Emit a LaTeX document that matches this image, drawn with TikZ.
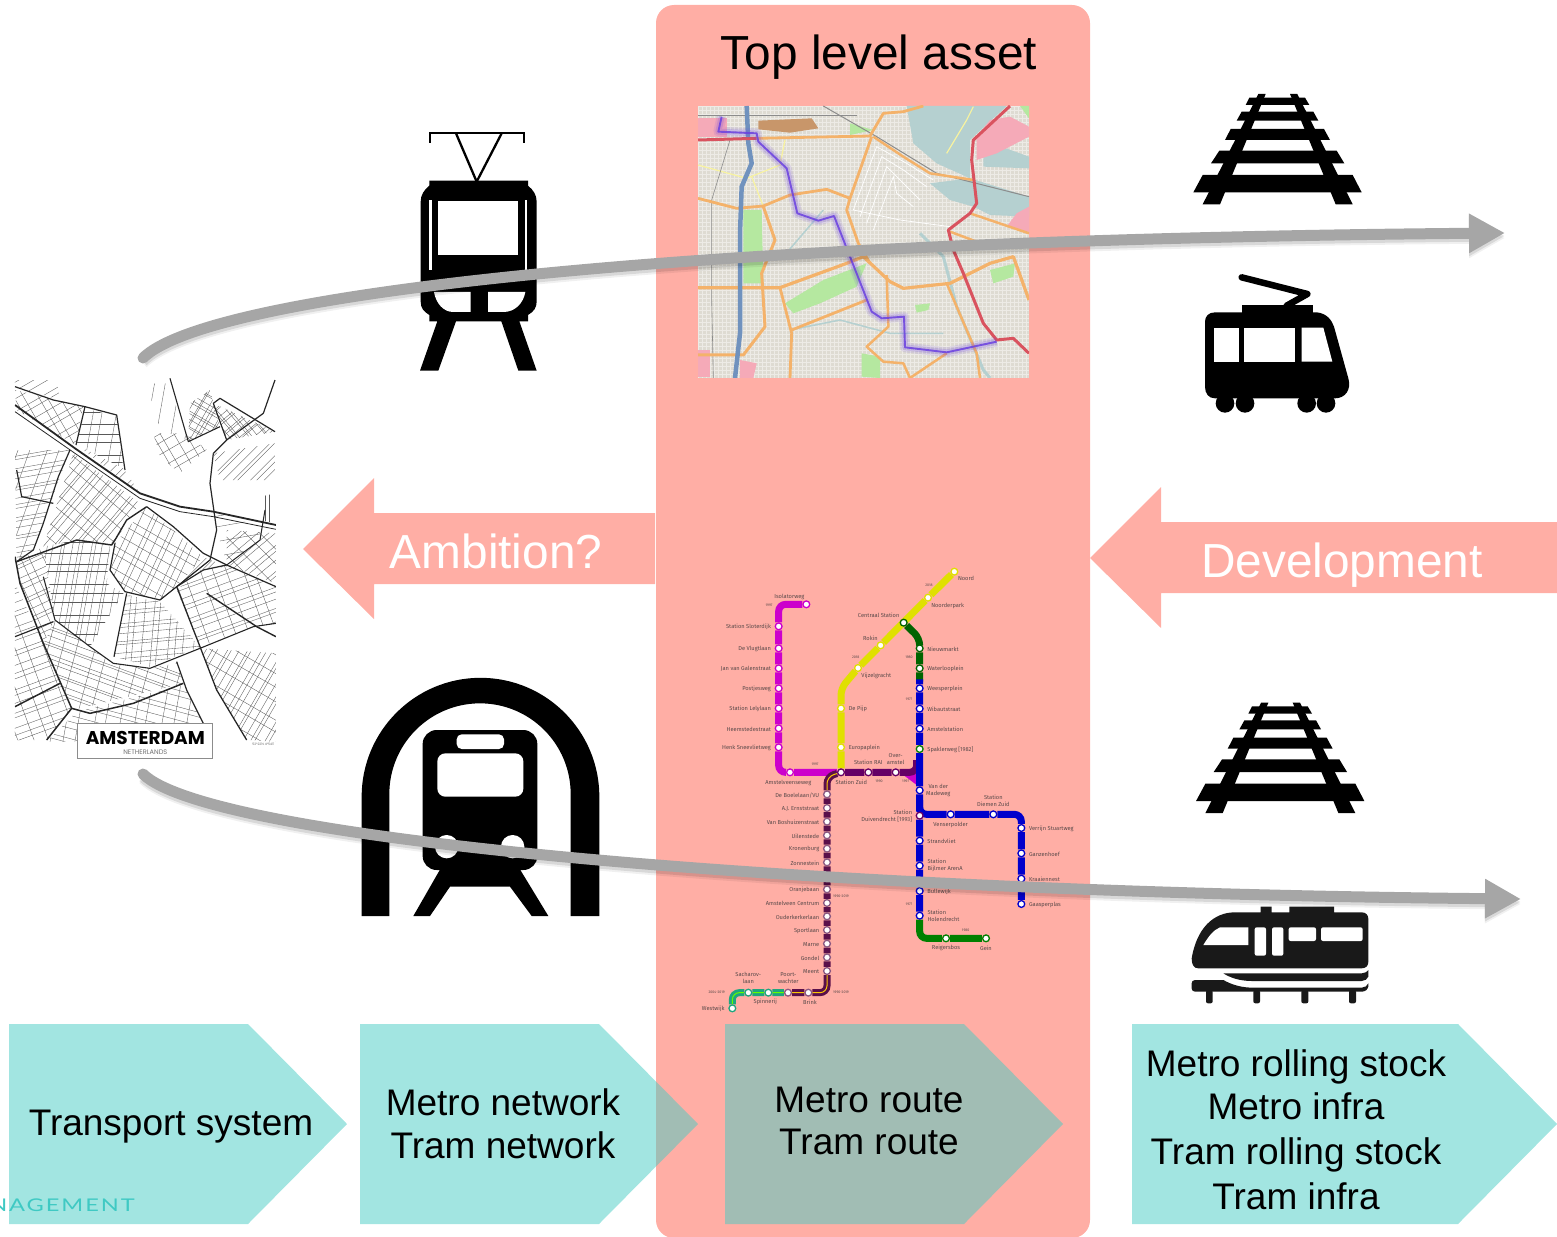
\documentclass[tikz,border=0pt]{standalone}
\usepackage{fontspec}
\setmainfont{Liberation Sans}
\newfontfamily\metrofont{Fira Sans}
\newfontfamily\posterfont{Poppins}
\newfontfamily\logofont[FakeStretch=1.35,LetterSpace=11]{Lato}
\usetikzlibrary{arrows.meta}

\definecolor{panelPink}{HTML}{FFAEA5}
\definecolor{chevronTeal}{HTML}{45CCC4}
\definecolor{arrowGrey}{HTML}{A6A6A6}
\definecolor{logoTeal}{HTML}{3FC9C3}
\definecolor{metroMagenta}{HTML}{CC00CC}
\definecolor{metroYellow}{HTML}{E0E000}
\definecolor{metroDarkGreen}{HTML}{006400}
\definecolor{metroBlue}{HTML}{0000CC}
\definecolor{metroGreen}{HTML}{008000}
\definecolor{metroPurple}{HTML}{660066}
\definecolor{metroMaroon}{HTML}{5A0F4A}
\definecolor{metroTeal}{HTML}{1FA67E}
\definecolor{metroText}{HTML}{5A4A4A}
\definecolor{mapGround}{HTML}{DEDBD2}
\definecolor{mapRoad}{HTML}{F4B26A}
\definecolor{mapWater}{HTML}{B5D0D0}
\definecolor{mapMotorway}{HTML}{7092BE}
\definecolor{mapRed}{HTML}{D9535F}
\definecolor{mapGreen}{HTML}{B5E8A0}
\definecolor{mapPink}{HTML}{F5AAB8}
\definecolor{mapYellow}{HTML}{F8F3A0}
\definecolor{mapBrown}{HTML}{C8966A}
\definecolor{mapRoute}{HTML}{6A40E0}

\pgfdeclarelayer{stops}
\pgfdeclarelayer{front}
\pgfsetlayers{main,stops,front}

\begin{document}
\begin{tikzpicture}[x = 1pt, y = -1pt,
    chevron/.style = {fill = chevronTeal, fill opacity = 0.5},
    bigLabel/.style = {anchor = base, font = \fontsize{47.8}{48}\selectfont},
    pinkLabel/.style = {bigLabel, text = white},
    boxLabel/.style = {anchor = base, font = \fontsize{37}{37}\selectfont},
    flowArrow/.style = {draw = arrowGrey, line width = 11pt, line cap = round,
        -{Triangle[length = 36pt, width = 37pt]},
        preaction = {draw = black, opacity = 0.10, line width = 11pt, transform canvas = {yshift = -3pt}},
        preaction = {draw = black, opacity = 0.06, line width = 11pt, transform canvas = {yshift = -5pt}}},
    metrostop/.style = {circle, fill = white, draw = #1, line width = 1.3pt, minimum size = 6.8pt, inner sep = 0pt},
    metroLine/.style = {draw = #1, line width = 7pt, rounded corners = 7pt},
    tramCore/.style = {draw = yellow!60!orange, line width = 1pt, rounded corners = 7pt},
    stopLabel/.style = {font = \metrofont\fontsize{5.7}{7}\selectfont, text = metroText, inner sep = 0pt, align = center},
    leftLabel/.style = {label = {[stopLabel, yshift = -0.8pt, label distance = 3.5pt]left:#1}},
    rightLabel/.style = {label = {[stopLabel, yshift = -0.8pt, label distance = 3.5pt]right:#1}},
    yearLabel/.style = {font = \metrofont\fontsize{3.6}{4}\selectfont, text = metroText, inner sep = 0pt},
    posterRoad/.style = {draw = black!85, line width = #1, line join = round},
    posterStreet/.style = {draw = black!65, line width = 0.35pt},
    mapRoadLine/.style = {draw = mapRoad, line width = #1, line join = round},
]

    \useasboundingbox (0, 0) rectangle (1557, 1236);

    % panel and big arrows
    \fill[panelPink, rounded corners = 18pt] (656, 5) rectangle (1090, 1238);
    \node[bigLabel] (topLevel) at (879, 70) {Top level asset};

    \fill[panelPink] (655, 513) -- (374, 513) -- (374, 478) -- (303, 549) -- (374, 619) -- (374, 584) -- (655, 584) -- cycle;
    \node[pinkLabel] (ambition) at (496, 568) {Ambition?};

    \fill[panelPink] (1557, 522) -- (1161, 522) -- (1161, 487) -- (1090, 558) -- (1161, 628) -- (1161, 593) -- (1557, 593) -- cycle;
    \node[pinkLabel] (development) at (1342, 577) {Development};

    % draw chevrons
    \fill[chevron] (9, 1024) -- (248, 1024) -- (347, 1124) -- (248, 1224) -- (9, 1224) -- cycle;
    \fill[chevron] (360, 1024) -- (599, 1024) -- (698, 1124) -- (599, 1224) -- (360, 1224) -- cycle;
    \fill[chevron] (725, 1024) -- (964, 1024) -- (1063, 1124) -- (964, 1224) -- (725, 1224) -- cycle;
    \fill[chevron] (1132, 1024) -- (1458, 1024) -- (1557, 1124) -- (1458, 1224) -- (1132, 1224) -- cycle;

    \node[boxLabel] (transport) at (171, 1135) {Transport system};
    \node[boxLabel] (metroNetwork) at (503, 1115) {Metro network};
    \node[boxLabel] (tramNetwork) at (503, 1158) {Tram network};
    \node[boxLabel] (metroRoute) at (869, 1112) {Metro route};
    \node[boxLabel] (tramRoute) at (869, 1154) {Tram route};
    \node[boxLabel] (metroStock) at (1296, 1076) {Metro rolling stock};
    \node[boxLabel] (metroInfra) at (1296, 1119) {Metro infra};
    \node[boxLabel] (tramStock) at (1296, 1164) {Tram rolling stock};
    \node[boxLabel] (tramInfra) at (1296, 1209) {Tram infra};

    \node[anchor = base east, inner sep = 0pt, text = logoTeal, font = \logofont\fontsize{17.5}{18}\selectfont] (logo) at (135, 1211) {NAGEMENT};

    % draw poster map
    \def\streetHatch#1#2#3{
        \begin{scope}
            \clip #1;
            \foreach \off in {-60, ..., 60} {
                \draw[posterStreet, rotate around = {#2:(450, 550)}] (-500, {550 + \off * #3 + 5 * sin(\off * 137)}) -- (1500, {550 + \off * #3 + 5 * sin(\off * 137)});
            }
        \end{scope}
    }

    \begin{scope}[shift = {(0, 370)}, scale = 1/3]
        \begin{scope}
            \clip (45, 20) rectangle (828, 1115);

            % streets
            \streetHatch{(220, 250) -- (420, 400) -- (340, 520) -- (230, 510) -- (130, 530) -- cycle}{50}{16}
            \streetHatch{(220, 250) -- (420, 400) -- (340, 520) -- (230, 510) -- (130, 530) -- cycle}{140}{40}
            \streetHatch{(130, 530) -- (230, 510) -- (330, 525) -- (320, 640) -- (370, 670) -- (270, 830) -- (165, 750) -- cycle}{80}{18}
            \streetHatch{(130, 530) -- (230, 510) -- (330, 525) -- (320, 640) -- (370, 670) -- (270, 830) -- (165, 750) -- cycle}{0}{30}
            \streetHatch{(345, 520) -- (440, 410) -- (610, 560) -- (530, 650) -- (480, 690) -- (375, 665) -- (330, 600) -- cycle}{65}{22}
            \streetHatch{(345, 520) -- (440, 410) -- (610, 560) -- (530, 650) -- (480, 690) -- (375, 665) -- (330, 600) -- cycle}{150}{30}
            \streetHatch{(380, 675) -- (480, 695) -- (600, 830) -- (450, 890) -- (342, 860) -- cycle}{85}{25}
            \streetHatch{(380, 675) -- (480, 695) -- (600, 830) -- (450, 890) -- (342, 860) -- cycle}{5}{18}
            \streetHatch{(600, 600) -- (680, 585) -- (828, 650) -- (828, 760) -- (760, 770) -- (600, 830) -- (530, 660) -- cycle}{20}{20}
            \streetHatch{(600, 600) -- (680, 585) -- (828, 650) -- (828, 760) -- (760, 770) -- (600, 830) -- (530, 660) -- cycle}{110}{40}
            \streetHatch{(45, 60) -- (250, 110) -- (228, 225) -- (50, 120) -- cycle}{30}{25}
            \streetHatch{(45, 60) -- (250, 110) -- (228, 225) -- (50, 120) -- cycle}{120}{30}
            \streetHatch{(255, 115) -- (350, 140) -- (370, 295) -- (230, 225) -- cycle}{0}{30}
            \streetHatch{(255, 115) -- (350, 140) -- (370, 295) -- (230, 225) -- cycle}{80}{35}
            \streetHatch{(45, 240) -- (210, 240) -- (100, 540) -- (50, 575) -- cycle}{10}{18}
            \streetHatch{(45, 240) -- (210, 240) -- (100, 540) -- (50, 575) -- cycle}{70}{40}
            \streetHatch{(45, 640) -- (130, 820) -- (215, 1015) -- (140, 1110) -- (45, 1110) -- cycle}{20}{22}
            \streetHatch{(45, 640) -- (130, 820) -- (215, 1015) -- (140, 1110) -- (45, 1110) -- cycle}{110}{40}
            \streetHatch{(220, 1020) -- (550, 940) -- (530, 880) -- (450, 895) -- (340, 880) -- (270, 830) -- (165, 750) -- (130, 820) -- cycle}{160}{16}
            \streetHatch{(220, 1020) -- (550, 940) -- (530, 880) -- (450, 895) -- (340, 880) -- (270, 830) -- (165, 750) -- (130, 820) -- cycle}{75}{45}
            \streetHatch{(230, 1025) -- (550, 945) -- (610, 1060) -- (610, 1115) -- (140, 1115) -- cycle}{165}{22}
            \streetHatch{(230, 1025) -- (550, 945) -- (610, 1060) -- (610, 1115) -- (140, 1115) -- cycle}{80}{40}
            \streetHatch{(600, 835) -- (830, 850) -- (828, 1115) -- (740, 1110) -- (650, 960) -- cycle}{60}{18}
            \streetHatch{(600, 835) -- (830, 850) -- (828, 1115) -- (740, 1110) -- (650, 960) -- cycle}{150}{40}
            \streetHatch{(640, 100) -- (825, 185) -- (680, 210) -- cycle}{40}{14}
            \streetHatch{(640, 100) -- (825, 185) -- (680, 210) -- cycle}{130}{14}
            \streetHatch{(570, 100) -- (630, 60) -- (660, 170) -- (565, 215) -- cycle}{60}{14}
            \streetHatch{(570, 100) -- (630, 60) -- (660, 170) -- (565, 215) -- cycle}{150}{14}
            \streetHatch{(640, 250) -- (825, 220) -- (825, 330) -- (660, 330) -- cycle}{45}{18}
            \streetHatch{(680, 480) -- (828, 490) -- (828, 640) -- (680, 585) -- cycle}{40}{20}
            \streetHatch{(680, 480) -- (828, 490) -- (828, 640) -- (680, 585) -- cycle}{135}{40}
            \streetHatch{(460, 190) -- (560, 190) -- (620, 240) -- (540, 310) -- (480, 260) -- cycle}{30}{30}
            \streetHatch{(460, 190) -- (560, 190) -- (620, 240) -- (540, 310) -- (480, 260) -- cycle}{120}{30}
            \streetHatch{(50, 575) -- (130, 530) -- (165, 750) -- (130, 820) -- (60, 640) -- cycle}{25}{20}
            \streetHatch{(50, 575) -- (130, 530) -- (165, 750) -- (130, 820) -- (60, 640) -- cycle}{115}{30}
            \streetHatch{(230, 225) -- (370, 295) -- (420, 370) -- cycle}{45}{20}
            \streetHatch{(45, 30) -- (170, 30) -- (180, 90) -- (45, 50) -- cycle}{30}{25}
            \streetHatch{(610, 560) -- (680, 590) -- (600, 600) -- (530, 650) -- cycle}{45}{16}
            \streetHatch{(640, 425) -- (780, 470) -- (780, 510) -- (680, 580) -- (650, 480) -- cycle}{10}{40}
            \streetHatch{(440, 40) -- (510, 40) -- (560, 210) -- (480, 180) -- cycle}{80}{40}
            \streetHatch{(780, 380) -- (828, 370) -- (828, 460) -- (780, 450) -- cycle}{90}{18}

            % main roads
            \draw[posterRoad = 1.8pt] (45, 105) -- (225, 235) -- (420, 370) -- (540, 410) -- (640, 425) -- (828, 465);
            \draw[posterRoad = 0.8pt] (45, 125) -- (225, 250) -- (420, 385) -- (540, 425) -- (640, 440) -- (828, 478);
            \draw[posterRoad = 1.2pt] (45, 50) -- (160, 90) -- (255, 110) -- (350, 135) -- (375, 300);
            \draw[posterRoad = 1.2pt] (255, 110) -- (228, 225);
            \draw[posterRoad = 1.2pt] (210, 240) -- (175, 320) -- (130, 460) -- (100, 540) -- (50, 575);
            \draw[posterRoad = 1.4pt] (50, 575) -- (230, 510) -- (335, 525) -- (345, 510) -- (380, 450) -- (440, 410);
            \draw[posterRoad = 1.5pt] (45, 560) -- (60, 640) -- (130, 820) -- (215, 1015) -- (270, 1030) -- (400, 1000) -- (550, 940);
            \draw[posterRoad = 1.1pt] (130, 620) -- (165, 750) -- (270, 830) -- (340, 880) -- (450, 895) -- (600, 835) -- (760, 770) -- (828, 760);
            \draw[posterRoad = 1.2pt] (345, 520) -- (330, 600) -- (375, 665) -- (480, 690) -- (530, 650) -- (610, 600) -- (680, 585) -- (828, 650);
            \draw[posterRoad = 1.2pt] (440, 410) -- (520, 470) -- (610, 550) -- (680, 585);
            \draw[posterRoad = 1.2pt] (640, 250) -- (630, 340) -- (650, 480) -- (630, 570) -- (530, 650);
            \draw[posterRoad = 1.2pt] (640, 250) -- (680, 210) -- (790, 130) -- (825, 30);
            \draw[posterRoad = 1.3pt] (530, 650) -- (600, 830) -- (650, 960) -- (740, 1110);
            \draw[posterRoad = 1.2pt] (380, 670) -- (342, 860);
            \draw[posterRoad = 1.4pt] (620, 670) -- (770, 770) -- (828, 800);
            \draw[posterRoad = 1.2pt] (680, 210) -- (640, 100) -- (660, 85) -- (825, 185);
            \draw[posterRoad = 1.1pt] (510, 25) -- (565, 215) -- (660, 170);
            \draw[posterRoad = 1pt] (680, 585) -- (780, 510) -- (795, 420);
            \draw[posterRoad = 1.5pt] (45, 1010) -- (180, 940);
            \draw[posterRoad = 1.2pt] (45, 800) -- (160, 755);
            \draw[posterRoad = 1.5pt] (215, 1015) -- (140, 1110);
            \draw[posterRoad = 1.2pt] (530, 875) -- (560, 960) -- (610, 1060);
            \draw[posterRoad = 1.2pt] (50, 300) -- (65, 380) -- (160, 400);
        \end{scope}

        \node[draw = black!45, fill = white, line width = 0.8pt, minimum width = 135pt, minimum height = 35pt, inner sep = 0pt] (posterBox) at (436, 1114) {};
        \node[inner sep = 0pt, font = \posterfont\bfseries\fontsize{18.5}{19}\selectfont] (amsterdam) at (436, 1103) {AMSTERDAM};
        \node[inner sep = 0pt, text = black!55, font = \posterfont\fontsize{6.6}{7}\selectfont] (netherlands) at (436, 1148) {NETHERLANDS};
        \node[inner sep = 0pt, text = black!60, font = \posterfont\fontsize{3.2}{4}\selectfont] (posterCoords) at (790, 1123) {52°22'N 4°54'E};
    \end{scope}

    % draw route map
    \begin{scope}[shift = {(690, 100)}, scale = 1/3]
        \clip (24, 18) rectangle (1017, 834);
        \fill[mapGround] (24, 18) rectangle (1017, 834);
        \foreach \k in {0, ..., 68} {
            \draw[white!45!mapGround, line width = 0.3pt] (24, 18 + \k * 12) -- (1017, 18 + \k * 12);
        }
        \foreach \k in {0, ..., 83} {
            \draw[white!45!mapGround, line width = 0.3pt] (24 + \k * 12, 18) -- (24 + \k * 12, 834);
        }

        % water
        \fill[mapWater] (650, 18) -- (950, 18) -- (840, 120) -- (840, 235) -- (740, 190) -- (670, 130) -- cycle;
        \fill[mapWater] (840, 235) -- (1017, 290) -- (1017, 350) -- (900, 345) -- (850, 320) -- (780, 300) -- (720, 250) -- cycle;
        \fill[mapWater] (880, 120) -- (1017, 170) -- (1017, 205) -- (880, 200) -- cycle;
        \draw[mapWater, line width = 3pt] (690, 400) -- (760, 470) -- (800, 620) -- (880, 810) -- (900, 834);
        \draw[mapWater, line width = 1.5pt] (24, 480) -- (140, 470) -- (280, 470) -- (400, 330);
        \draw[mapWater, line width = 1.5pt] (300, 690) -- (450, 660) -- (600, 700) -- (760, 700);

        % canals
        \draw[white, line width = 0.7pt] (490, 330) -- (560, 140) -- (650, 190) -- (730, 240);
        \draw[white, line width = 0.7pt] (510, 350) -- (575, 170) -- (640, 210) -- (710, 260);
        \draw[white, line width = 0.7pt] (530, 370) -- (590, 200) -- (630, 240) -- (690, 300);
        \draw[white, line width = 0.7pt] (550, 390) -- (610, 230) -- (620, 280) -- (670, 320);
        \draw[white, line width = 0.7pt] (490, 330) -- (630, 360) -- (780, 380);

        % parks, fields and built up areas
        \fill[mapGreen] (160, 330) -- (215, 330) -- (220, 550) -- (160, 550) -- cycle;
        \fill[mapGreen] (285, 610) -- (400, 540) -- (530, 490) -- (500, 560) -- (390, 610) -- (310, 640) -- cycle;
        \fill[mapGreen] (515, 760) -- (570, 770) -- (570, 834) -- (515, 830) -- cycle;
        \fill[mapGreen] (480, 70) -- (550, 90) -- (480, 105) -- cycle;
        \fill[mapGreen] (990, 18) -- (1017, 18) -- (1017, 55) -- cycle;
        \fill[mapGreen] (675, 615) -- (720, 610) -- (715, 630) -- (680, 638) -- cycle;
        \fill[mapGreen] (900, 510) -- (975, 490) -- (970, 530) -- (910, 550) -- cycle;
        \fill[mapBrown] (205, 62) -- (365, 55) -- (385, 85) -- (300, 98) -- (205, 88) -- cycle;
        \fill[mapPink] (860, 110) -- (900, 60) -- (960, 50) -- (1017, 80) -- (1017, 110) -- (920, 160) -- (860, 180) -- cycle;
        \fill[mapPink] (24, 55) -- (110, 55) -- (110, 110) -- (24, 110) -- cycle;
        \fill[mapPink] (980, 340) -- (1017, 320) -- (1017, 400) -- (950, 380) -- cycle;
        \fill[mapPink] (24, 750) -- (60, 750) -- (60, 830) -- (24, 830) -- cycle;
        \fill[mapPink] (150, 780) -- (200, 790) -- (190, 834) -- (150, 834) -- cycle;

        % yellow and grey lines
        \draw[mapYellow, line width = 1.2pt] (24, 195) -- (170, 235) -- (270, 195) -- (285, 120);
        \draw[mapYellow, line width = 1.2pt] (185, 230) -- (240, 370);
        \draw[mapYellow, line width = 1.2pt] (770, 160) -- (830, 60) -- (850, 20);
        \draw[black!45, line width = 1pt] (400, 18) -- (560, 110) -- (740, 220) -- (1017, 290);
        \draw[black!45, line width = 0.6pt] (120, 120) -- (65, 300) -- (65, 600) -- (70, 834);
        \draw[black!45, line width = 0.6pt] (24, 45) -- (500, 45);

        % roads
        \draw[mapRoadLine = 2.8pt] (24, 295) -- (140, 325) -- (220, 318) -- (300, 285) -- (410, 268) -- (480, 295);
        \draw[mapRoadLine = 2.8pt] (200, 115) -- (540, 108) -- (580, 40) -- (640, 35) -- (700, 18);
        \draw[mapRoadLine = 2.8pt] (545, 110) -- (480, 295) -- (470, 330) -- (505, 430) -- (540, 490);
        \draw[mapRoadLine = 2.5pt] (550, 110) -- (640, 170) -- (720, 220) -- (850, 240);
        \draw[mapRoadLine = 3.2pt] (24, 563) -- (270, 563) -- (470, 490) -- (520, 470) -- (600, 545) -- (640, 565) -- (780, 550) -- (900, 490) -- (970, 470) -- (1017, 600);
        \draw[mapRoadLine = 2.8pt] (270, 563) -- (305, 700) -- (300, 834);
        \draw[mapRoadLine = 2.8pt] (305, 690) -- (530, 600);
        \draw[mapRoadLine = 2.5pt] (590, 525) -- (595, 680) -- (530, 740) -- (580, 785) -- (640, 790) -- (660, 834) -- (770, 760);
        \draw[mapRoadLine = 2.5pt] (770, 550) -- (860, 760) -- (870, 834);
        \draw[mapRoadLine = 3pt] (24, 765) -- (160, 765) -- (225, 680) -- (215, 520) -- (255, 420) -- (220, 320);
        \draw[mapRoadLine = 2.5pt] (780, 395) -- (900, 440) -- (1017, 440);
        \draw[mapRoadLine = 2.5pt] (840, 340) -- (1017, 400);

        % motorway and red roads
        \draw[mapMotorway, line width = 4.5pt] (170, 18) -- (175, 130) -- (185, 190) -- (155, 260) -- (150, 400) -- (150, 700) -- (135, 834);
        \draw[mapRed, line width = 3pt] (24, 120) -- (200, 115);
        \draw[mapRed, line width = 3pt, line join = round] (960, 18) -- (850, 120) -- (845, 180) -- (860, 310) -- (840, 340) -- (775, 390) -- (790, 450) -- (820, 520) -- (880, 670) -- (920, 720) -- (970, 715) -- (1017, 760);

        % route
        \def\routePath{(95, 50) -- (85, 95) -- (200, 100) -- (205, 125) -- (290, 205) -- (322, 340) -- (385, 362) -- (432, 348) -- (480, 470) -- (545, 635) -- (575, 655) -- (642, 650) -- (645, 742) -- (770, 757) -- (920, 725)}
        \draw[mapRoute, opacity = 0.12, line width = 10pt, line join = round] \routePath;
        \draw[mapRoute, opacity = 0.18, line width = 6pt, line join = round] \routePath;
        \draw[mapRoute, opacity = 0.85, line width = 1.9pt, line join = round] \routePath;
    \end{scope}

    % draw tram
    \begin{scope}[shift = {(350, 120)}, scale = 1/3]
        \draw[line width = 2.3pt] (241, 68) -- (241, 40) -- (521, 40) -- (521, 68);
        \draw[line width = 2.3pt] (318, 40) -- (380, 185) -- (455, 40);
        \fill (238, 182) -- (534, 182) -- (534, 197) .. controls (550, 210) and (560, 225) .. (560, 245) -- (560, 545) .. controls (560, 565) and (550, 575) .. (534, 585) -- (534, 604) -- (508, 604) -- (560, 752) -- (505, 752) -- (454, 604) -- (318, 604) -- (265, 752) -- (210, 752) -- (262, 604) -- (238, 604) -- (238, 585) .. controls (222, 575) and (212, 565) .. (212, 545) -- (212, 245) .. controls (212, 225) and (222, 210) .. (238, 197) -- cycle;
        \fill[white] (265, 243) rectangle (505, 405);
        \fill[white] (238, 240) rectangle (246, 450);
        \fill[white] (524, 240) rectangle (532, 450);
        \fill[white] (252, 516) -- (362, 516) -- (362, 576) -- (310, 576) .. controls (280, 576) and (258, 550) .. cycle;
        \fill[white] (414, 516) -- (526, 516) .. controls (520, 550) and (495, 576) .. (460, 576) -- (414, 576) -- cycle;
    \end{scope}

    % draw metro
    \begin{scope}[shift = {(350, 670)}, scale = 1/3]
        \fill (35, 738) -- (35, 380) arc (180:360:356.5) -- (748, 738) -- (662, 738) -- (662, 372) arc (0:-180:272) -- (118, 738) -- cycle;
        \fill[rounded corners = 14pt] (218, 180) rectangle (562, 600);
        \fill (275, 590) -- (190, 738) -- (240, 738) -- (300, 650) -- (480, 650) -- (545, 738) -- (595, 738) -- (505, 590) -- cycle;
        \fill[white, rounded corners = 5pt] (320, 193) rectangle (462, 237);
        \fill[white, rounded corners = 8pt] (262, 250) rectangle (520, 380);
        \fill[white] (290, 530) circle (35);
        \fill[white] (488, 530) circle (35);
    \end{scope}

    % draw rails
    \def\railTrack{
        \fill (68, 270) -- (518, 270) -- (545, 322) -- (40, 322) -- cycle;
        \fill (118, 197) -- (470, 197) -- (493, 235) -- (93, 235) -- cycle;
        \fill (152, 132) -- (432, 132) -- (450, 165) -- (135, 165) -- cycle;
        \fill (185, 80) -- (400, 80) -- (415, 107) -- (170, 107) -- cycle;
        \fill (208, 38) -- (375, 38) -- (388, 60) -- (197, 60) -- cycle;
        \fill (235, 27) -- (257, 27) -- (120, 358) -- (68, 358) -- cycle;
        \fill (330, 27) -- (352, 27) -- (518, 358) -- (467, 358) -- cycle;
    }
    \begin{scope}[shift = {(1180, 85)}, scale = 1/3]
        \railTrack
    \end{scope}
    \begin{scope}[shift = {(1182.7, 693.7)}, scale = 1/3]
        \railTrack
    \end{scope}

    % draw trolley
    \begin{scope}[shift = {(1180, 85)}, scale = 1/3]
        \draw[line width = 6.5pt, line cap = round, line join = round] (185, 577) -- (382, 627) -- (320, 662);
        \fill (185, 660) rectangle (400, 690);
        \fill (105, 682) -- (410, 682) .. controls (440, 685) and (455, 705) .. (462, 725) -- (505, 880) .. controls (515, 915) and (495, 940) .. (465, 940) -- (105, 940) .. controls (85, 940) and (75, 925) .. (75, 905) -- (75, 710) .. controls (75, 695) and (85, 682) .. (105, 682) -- cycle;
        \fill[white] (102, 728) rectangle (176, 830);
        \fill[white] (193, 728) rectangle (345, 830);
        \fill[white] (365, 728) -- (430, 728) -- (457, 830) -- (365, 830) -- cycle;
        \fill (135, 955) circle (28);
        \fill (195, 955) circle (28);
        \fill (380, 955) circle (28);
        \fill (438, 955) circle (28);
    \end{scope}

    % draw train
    \begin{scope}[shift = {(1180, 695)}, scale = 1/3]
        \fill[black!90] (35, 790) .. controls (50, 700) and (100, 652) .. (165, 652) -- (242, 652) -- (242, 635) -- (275, 635) -- (275, 652) -- (328, 652) -- (328, 635) -- (462, 635) -- (462, 652) -- (545, 652) .. controls (558, 652) and (565, 660) .. (565, 672) -- (565, 800) .. controls (565, 812) and (558, 820) .. (545, 820) -- (55, 820) .. controls (42, 820) and (35, 810) .. cycle;
        \fill[white] (70, 750) .. controls (85, 725) and (100, 705) .. (120, 697) -- (205, 697) -- (205, 750) -- cycle;
        \fill[white, rounded corners = 2pt] (224, 697) rectangle (258, 782);
        \fill[white, rounded corners = 2pt] (276, 697) rectangle (310, 782);
        \fill[white, rounded corners = 2pt] (326, 697) rectangle (408, 738);
        \fill[white, rounded corners = 2pt] (423, 697) rectangle (548, 738);
        \fill[black!90] (130, 835) -- (545, 835) .. controls (555, 835) and (562, 830) .. (565, 825) -- (565, 845) .. controls (562, 852) and (555, 858) .. (545, 858) -- (215, 858) .. controls (180, 858) and (150, 848) .. cycle;
        \fill[black!90] (45, 855) -- (130, 855) .. controls (160, 872) and (190, 878) .. (220, 878) -- (545, 878) .. controls (555, 878) and (562, 872) .. (565, 865) -- (565, 875) .. controls (562, 885) and (555, 890) .. (545, 890) -- (45, 890) .. controls (38, 890) and (35, 885) .. (35, 880) -- (35, 865) .. controls (35, 860) and (38, 855) .. cycle;
        \fill[black!90, rounded corners = 2pt] (78, 885) rectangle (98, 925);
        \fill[black!90, rounded corners = 2pt] (220, 885) rectangle (240, 925);
        \fill[black!90, rounded corners = 2pt] (364, 885) rectangle (385, 925);
        \fill[black!90, rounded corners = 2pt] (507, 885) rectangle (528, 925);
    \end{scope}

    % draw metro map
    \begin{scope}[shift = {(690, 560)}, scale = 1/3]

        \begin{pgfonlayer}{stops}
            % magenta stops
            \node[metrostop = metroMagenta, label = {[stopLabel, label distance = 1pt]110:Isolatorweg}] (isolatorweg) at (349, 133) {};
            \node[metrostop = metroMagenta, leftLabel = Station Sloterdijk] (sloterdijk) at (266, 199) {};
            \node[metrostop = metroMagenta, leftLabel = De Vlugtlaan] (vlugtlaan) at (266, 265) {};
            \node[metrostop = metroMagenta, leftLabel = Jan van Galenstraat] (galenstraat) at (266, 325) {};
            \node[metrostop = metroMagenta, leftLabel = Postjesweg] (postjesweg) at (266, 385) {};
            \node[metrostop = metroMagenta, leftLabel = Station Lelylaan] (lelylaan) at (266, 445) {};
            \node[metrostop = metroMagenta, leftLabel = Heemstedestraat] (heemstede) at (266, 505) {};
            \node[metrostop = metroMagenta, leftLabel = Henk Sneevlietweg] (sneevliet) at (266, 562) {};
            \node[metrostop = metroMagenta] (amstelveenseweg) at (300, 637) {};

            % yellow stops
            \node[metrostop = metroYellow] (noord) at (793, 35) {};
            \node[metrostop = metroYellow] (noorderpark) at (714, 113) {};
            \node[metrostop = metroYellow] (rokin) at (572, 256) {};
            \node[metrostop = metroYellow] (vijzelgracht) at (504, 324) {};
            \node[metrostop = metroYellow, rightLabel = De Pijp] (pijp) at (453, 445) {};
            \node[metrostop = metroYellow, rightLabel = Europaplein] (europaplein) at (453, 562) {};

            % purple stops
            \node[metrostop = metroPurple] (zuid) at (453, 637) {};
            \node[metrostop = metroPurple] (rai) at (535, 637) {};
            \node[metrostop = metroPurple] (overamstel) at (617, 637) {};

            % green stops
            \node[metrostop = metroDarkGreen] (centraal) at (641, 188) {};
            \node[metrostop = metroDarkGreen, rightLabel = Nieuwmarkt] (nieuwmarkt) at (689, 265) {};
            \node[metrostop = metroDarkGreen, rightLabel = Waterlooplein] (waterlooplein) at (689, 325) {};
            \node[metrostop = metroGreen] (reigersbos) at (768, 1135) {};
            \node[metrostop = metroGreen] (gein) at (888, 1135) {};

            % blue stops
            \node[metrostop = metroBlue, rightLabel = Weesperplein] (weesperplein) at (689, 385) {};
            \node[metrostop = metroBlue, rightLabel = Wibautstraat] (wibautstraat) at (689, 446) {};
            \node[metrostop = metroBlue, rightLabel = Amstelstation] (amstelstation) at (689, 506) {};
            \node[metrostop = metroGreen, rightLabel = {Spaklerweg [1982]}] (spaklerweg) at (689, 567) {};
            \node[metrostop = metroBlue] (madeweg) at (689, 691) {};
            \node[metrostop = metroPurple] (duivendrecht) at (689, 767) {};
            \node[metrostop = metroBlue, rightLabel = Strandvliet] (strandvliet) at (689, 842) {};
            \node[metrostop = metroBlue] (bijlmer) at (689, 917) {};
            \node[metrostop = metroBlue, rightLabel = Bullewijk] (bullewijk) at (689, 993) {};
            \node[metrostop = metroBlue] (holendrecht) at (689, 1067) {};
            \node[metrostop = metroBlue] (venserpolder) at (782, 763) {};
            \node[metrostop = metroBlue] (diemen) at (910, 763) {};
            \node[metrostop = metroBlue, rightLabel = Verrijn Stuartweg] (verrijn) at (994, 804) {};
            \node[metrostop = metroBlue, rightLabel = Ganzenhoef] (ganzenhoef) at (994, 880) {};
            \node[metrostop = metroBlue, rightLabel = Kraaiennest] (kraaiennest) at (994, 956) {};
            \node[metrostop = metroBlue, rightLabel = Gaasperplas] (gaasperplas) at (994, 1032) {};

            % tram stops
            \node[metrostop = metroMaroon!70, leftLabel = De Boelelaan/VU] (boelelaan) at (411, 703) {};
            \node[metrostop = metroMaroon!70, leftLabel = A.J. Ernststraat] (ernststraat) at (411, 744) {};
            \node[metrostop = metroMaroon!70, leftLabel = Van Boshuizenstraat] (boshuizen) at (411, 785) {};
            \node[metrostop = metroMaroon!70, leftLabel = Uilenstede] (uilenstede) at (411, 826) {};
            \node[metrostop = metroMaroon!70, leftLabel = Kronenburg] (kronenburg) at (411, 866) {};
            \node[metrostop = metroMaroon!70, leftLabel = Zonnestein] (zonnestein) at (411, 907) {};
            \node[metrostop = metroMaroon!70, leftLabel = Oranjebaan] (oranjebaan) at (411, 988) {};
            \node[metrostop = metroMaroon!70, leftLabel = Amstelveen Centrum] (amstelveen) at (411, 1029) {};
            \node[metrostop = metroMaroon!70, leftLabel = Ouderkerkerlaan] (ouderkerk) at (411, 1069) {};
            \node[metrostop = metroMaroon!70, leftLabel = Sportlaan] (sportlaan) at (411, 1110) {};
            \node[metrostop = metroMaroon!70, leftLabel = Marne] (marne) at (411, 1151) {};
            \node[metrostop = metroMaroon!70, leftLabel = Gondel] (gondel) at (411, 1192) {};
            \node[metrostop = metroMaroon!70, leftLabel = Meent] (meent) at (411, 1233) {};
            \node[metrostop = metroMaroon!70] (brink) at (355, 1298) {};
            \node[metrostop = metroMaroon!70] (poortwachter) at (294, 1298) {};
            \node[metrostop = metroTeal] (spinnerij) at (235, 1298) {};
            \node[metrostop = metroTeal] (sacharovlaan) at (175, 1298) {};
            \node[metrostop = metroTeal, leftLabel = Westwijk] (westwijk) at (127, 1345) {};
        \end{pgfonlayer}

        % labels that do not sit beside their stop
        \node[stopLabel] (labelAmstelveenseweg) at (295, 668) {Amstelveenseweg};
        \node[stopLabel] (labelNoord) at (828, 56) {Noord};
        \node[stopLabel] (labelNoorderpark) at (773, 138) {Noorderpark};
        \node[stopLabel] (labelCentraal) at (566, 167) {Centraal Station};
        \node[stopLabel] (labelRokin) at (541, 235) {Rokin};
        \node[stopLabel] (labelVijzelgracht) at (559, 347) {Vijzelgracht};
        \node[stopLabel] (labelRai) at (535, 608) {Station RAI};
        \node[stopLabel] (labelOveramstel) at (617, 597) {Over-\\amstel};
        \node[stopLabel] (labelZuid) at (484, 668) {Station Zuid};
        \node[stopLabel] (labelMadeweg) at (745, 691) {Van der\\Madeweg};
        \node[stopLabel, align = right, anchor = east] (labelDuivendrecht) at (667, 767) {Station\\Duivendrecht [1993]};
        \node[stopLabel, align = left, anchor = west] (labelBijlmer) at (712, 917) {Station\\Bijlmer ArenA};
        \node[stopLabel, align = left, anchor = west] (labelHolendrecht) at (712, 1067) {Station\\Holendrecht};
        \node[stopLabel] (labelVenserpolder) at (782, 794) {Venserpolder};
        \node[stopLabel] (labelDiemen) at (910, 722) {Station\\Diemen Zuid};
        \node[stopLabel] (labelReigersbos) at (768, 1165) {Reigersbos};
        \node[stopLabel] (labelGein) at (888, 1165) {Gein};
        \node[stopLabel] (labelBrink) at (360, 1327) {Brink};
        \node[stopLabel] (labelPoortwachter) at (295, 1253) {Poort-\\wachter};
        \node[stopLabel] (labelSpinnerij) at (226, 1327) {Spinnerij};
        \node[stopLabel] (labelSacharovlaan) at (175, 1253) {Sacharov-\\laan};

        % year labels
        \node[yearLabel] (year1) at (237, 135) {1997};
        \node[yearLabel] (year2) at (375, 613) {1997};
        \node[yearLabel] (year3) at (717, 76) {2018};
        \node[yearLabel] (year4) at (497, 292) {2018};
        \node[yearLabel] (year5) at (657, 293) {1980};
        \node[yearLabel] (year6) at (657, 417) {1977};
        \node[yearLabel] (year7) at (567, 663) {1990};
        \node[yearLabel] (year8) at (647, 663) {1997};
        \node[yearLabel] (year9) at (657, 1032) {1977};
        \node[yearLabel] (year10) at (827, 1112) {1980};
        \node[yearLabel] (year11) at (453, 1010) {1990-2019};
        \node[yearLabel] (year12) at (453, 1298) {1990-2019};
        \node[yearLabel] (year13) at (80, 1298) {2004-2019};

        % bends
        \coordinate (yellowBend) at (453, 385);
        \coordinate (greenBend) at (689, 235);
        \coordinate (greenEnd) at (689, 365);
        \coordinate (blueStart) at (689, 358);
        \coordinate (purpleBend) at (680, 637);
        \coordinate (purpleEnd) at (680, 600);
        \coordinate (branchStart) at (689, 720);
        \coordinate (branchBend) at (689, 763);
        \coordinate (branchCorner) at (994, 763);
        \coordinate (lowerBend) at (689, 1135);
        \coordinate (tramBend) at (411, 650);
        \coordinate (tramLow) at (411, 1298);

        % draw lines
        \draw[metroLine = metroMagenta] (isolatorweg) -| (sloterdijk) -- (vlugtlaan) -- (galenstraat) -- (postjesweg) -- (lelylaan) -- (heemstede) -- (sneevliet) |- (amstelveenseweg) -- (zuid);
        \fill[metroMagenta] (640, 645) -- (684, 640) -- (684, 678) -- cycle;
        \draw[metroLine = metroYellow] (noord) -- (noorderpark) -- (rokin) -- (vijzelgracht) -- (yellowBend) -- (pijp) -- (europaplein) -- (zuid);
        \draw[metroLine = metroPurple] (zuid) -- (rai) -- (overamstel) -- (purpleBend) -- (purpleEnd);
        \draw[metroLine = metroDarkGreen] (centraal) -- (greenBend) -- (nieuwmarkt) -- (waterlooplein) -- (greenEnd);
        \draw[metroLine = metroGreen] (holendrecht) -- (lowerBend) -- (reigersbos) -- (gein);
        \draw[metroLine = metroBlue] (blueStart) -- (weesperplein) -- (wibautstraat) -- (amstelstation) -- (spaklerweg) -- (madeweg) -- (duivendrecht) -- (strandvliet) -- (bijlmer) -- (bullewijk) -- (holendrecht);
        \draw[metroLine = metroBlue] (branchStart) -- (branchBend) -- (venserpolder) -- (diemen) -- (branchCorner) -- (verrijn) -- (ganzenhoef) -- (kraaiennest) -- (gaasperplas);
        \draw[metroLine = metroTeal] (westwijk) |- (sacharovlaan) -- (spinnerij) -- (poortwachter);
        \draw[draw = green!60!yellow, line width = 1pt, rounded corners = 7pt] (westwijk) |- (sacharovlaan) -- (spinnerij) -- (poortwachter);
        \draw[metroLine = metroMaroon] (zuid) -- (tramBend) -- (boelelaan) -- (ernststraat) -- (boshuizen) -- (uilenstede) -- (kronenburg) -- (zonnestein) -- (oranjebaan) -- (amstelveen) -- (ouderkerk) -- (sportlaan) -- (marne) -- (gondel) -- (meent) -- (tramLow) -- (brink) -- (poortwachter);
        \draw[tramCore] (zuid) -- (tramBend) -- (boelelaan);
        \draw[tramCore] (meent) -- (tramLow) -- (brink) -- (poortwachter);
    \end{scope}

    % draw grey arrows
    \coordinate (topStart) at (143, 358);
    \coordinate (topEnd) at (1505, 233);
    \coordinate (bottomStart) at (143, 774);
    \coordinate (bottomEnd) at (1521, 899);

    \begin{pgfonlayer}{front}
        \draw[flowArrow] (topStart) .. controls (210, 292) and (700, 240) .. (topEnd);
        \draw[flowArrow] (bottomStart) .. controls (210, 840) and (800, 892) .. (bottomEnd);
    \end{pgfonlayer}

\end{tikzpicture}
\end{document}
